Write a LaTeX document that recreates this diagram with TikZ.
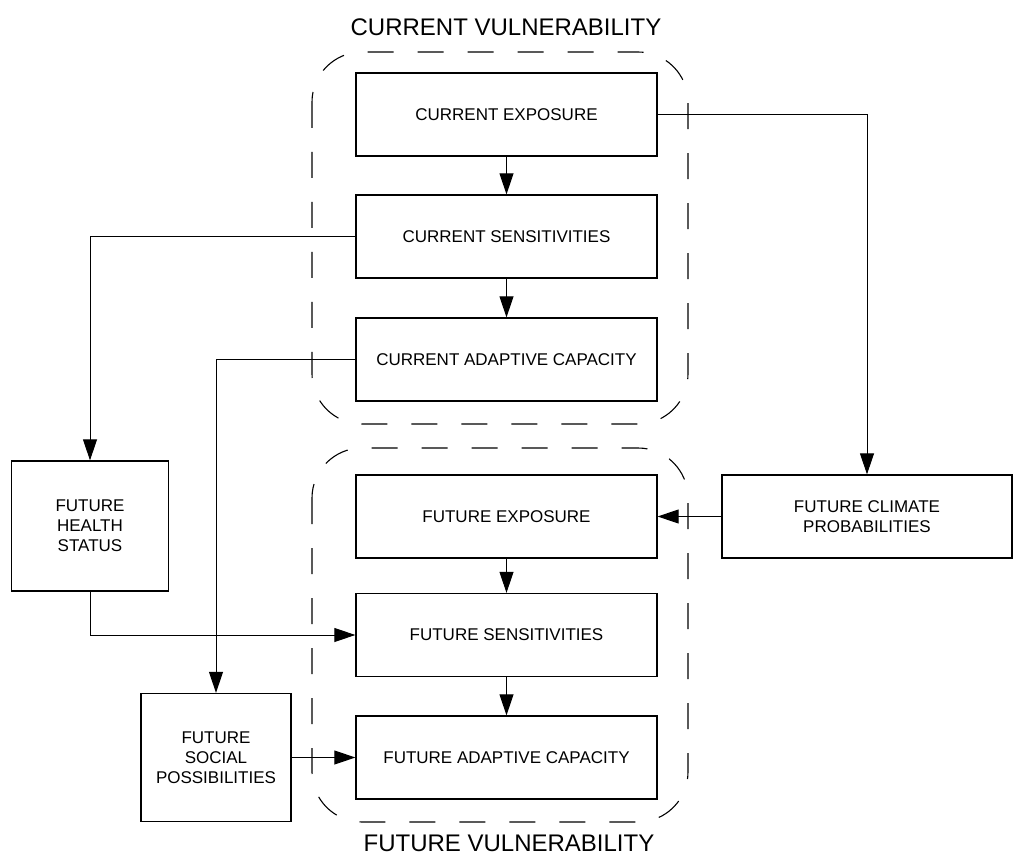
\documentclass[tikz,border=0pt]{standalone}
\usepackage{fontspec}
\setmainfont{Liberation Sans}
\usetikzlibrary{arrows.meta, positioning}

\begin{document}
\begin{tikzpicture}[
    x=1pt, y=-1pt,
    box/.style={
        draw,
        line width=1.3pt,
        align=center,
        font=\fontsize{17}{20}\selectfont,
        minimum width=301pt,
        minimum height=83pt,
        inner sep=0pt
    },
    sidebox/.style={
        box,
        minimum width=157pt,
        minimum height=130pt
    },
    group/.style={
        draw,
        line width=1.1pt,
        dash pattern=on 26pt off 24pt,
        rounded corners=50pt
    },
    title/.style={
        font=\fontsize{24}{28}\selectfont
    },
    arrow/.style={
        -{Triangle[length=21pt, width=14pt]},
        line width=1pt
    }
]
\useasboundingbox (0,0) rectangle (1013,861);

% current vulnerability
\node[title] (curtitle) at (506,27) {CURRENT VULNERABILITY};
\draw[group] (312,52) rectangle (688,424);

\node[box] (curexp) at (506.5,114.5) {CURRENT EXPOSURE};
\node[box] (cursens) at (506.5,236.5) {CURRENT SENSITIVITIES};
\node[box] (curadapt) at (506.5,359.5) {CURRENT ADAPTIVE CAPACITY};

% future vulnerability
\draw[group] (312,448) rectangle (688,822);
\node[title] (futtitle) at (509,843) {FUTURE VULNERABILITY};

\node[box] (futexp) at (506.5,516.5) {FUTURE EXPOSURE};
\node[box] (futsens) at (506.5,635) {FUTURE SENSITIVITIES};
\node[box] (futadapt) at (506.5,757.5) {FUTURE ADAPTIVE CAPACITY};

% outside boxes
\node[sidebox] (health) at (90,526) {FUTURE\\HEALTH\\STATUS};
\node[sidebox, minimum width=150pt, minimum height=128pt] (social) at (216,757.5)
{FUTURE\\SOCIAL\\POSSIBILITIES};
\node[box, minimum width=290pt] (climate) at (867,516.5)
{FUTURE CLIMATE\\PROBABILITIES};

\draw[arrow] (curexp) -- (cursens);
\draw[arrow] (cursens) -- (curadapt);
\draw[arrow] (futexp) -- (futsens);
\draw[arrow] (futsens) -- (futadapt);

\draw[arrow] (curexp.east) -| (climate.north);
\draw[arrow] (climate.west) -- (futexp.east);
\draw[arrow] (cursens.west) -| (health.north);
\draw[arrow] (curadapt.west) -| (social.north);
\draw[arrow] (health.south) |- (futsens.west);
\draw[arrow] (social.east) -- (futadapt.west);

\end{tikzpicture}
\end{document}
